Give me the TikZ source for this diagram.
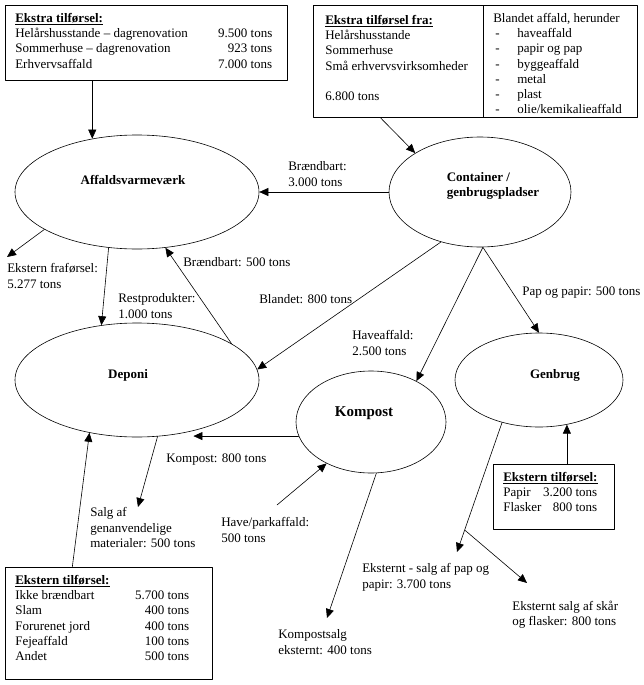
\documentclass[tikz,border=0pt]{standalone}
\usepackage{fontspec}
\setmainfont{Liberation Serif}
\usetikzlibrary{arrows.meta,calc,shapes.geometric}
\newcommand{\fs}{\fontsize{13}{15.2}\selectfont}
\newcommand{\hd}[1]{\underline{\textbf{#1}}}
\tikzset{
	proc/.style={draw, ellipse, inner sep=0pt},
	elab/.style={font=\fs\bfseries, inner sep=0pt, align=left},
	boks/.style={draw, rectangle, inner sep=0pt, anchor=north west},
	tab/.style={inner sep=0pt, anchor=north west, font=\fs},
	txt/.style={inner sep=0pt, anchor=north west, align=left, font=\fs, execute at begin node=\strut}
}

\begin{document}
\begin{tikzpicture}[x=1pt,y=-1pt,line cap=round,line join=round,line width=0.6pt,>={Triangle[length=9pt,width=8pt]}]
	\useasboundingbox (0,0) rectangle (643,685);
	
	% Boxes
	\node[boks, minimum width=282pt, minimum height=75pt] (b1) at (5,5) {};
	\node[tab] (b1t) at ([shift={(10pt,-6.5pt)}]b1.north west) {\begin{tabular*}{257pt}{@{}l@{\extracolsep{\fill}}r@{}}
			\multicolumn{2}{@{}l}{\hd{Ekstra tilførsel:}}\\
			Helårshusstande – dagrenovation & 9.500 tons\\
			Sommerhuse – dagrenovation & 923 tons\\
			Erhvervsaffald & 7.000 tons
		\end{tabular*}};
	\node[boks, minimum width=170pt, minimum height=112pt] (b2l) at (313,5) {};
	\node[boks, minimum width=154pt, minimum height=112pt] (b2r) at (483,5) {};
	\node[tab] (b2lt) at ([shift={(12pt,-8.5pt)}]b2l.north west) {\begin{tabular}{@{}l@{}}
			\hd{Ekstra tilførsel fra:}\\
			Helårshusstande\\
			Sommerhuse\\
			Små erhvervsvirksomheder\\
			\\
			6.800 tons
		\end{tabular}};
	\node[tab] (b2rt) at ([shift={(10pt,-6.5pt)}]b2r.north west) {\begin{tabular}{@{}p{24pt}@{}l@{}}
			\multicolumn{2}{@{}l@{}}{Blandet affald, herunder}\\
			\hspace{2pt}- & haveaffald\\
			\hspace{2pt}- & papir og pap\\
			\hspace{2pt}- & byggeaffald\\
			\hspace{2pt}- & metal\\
			\hspace{2pt}- & plast\\
			\hspace{2pt}- & olie/kemikalieaffald
		\end{tabular}};
	\node[boks, minimum width=207pt, minimum height=112pt] (b3) at (5,567) {};
	\node[tab] (b3t) at ([shift={(10pt,-6.5pt)}]b3.north west) {\begin{tabular*}{174pt}{@{}l@{\extracolsep{\fill}}r@{}}
			\multicolumn{2}{@{}l}{\hd{Ekstern tilførsel:}}\\
			Ikke brændbart & 5.700 tons\\
			Slam & 400 tons\\
			Forurenet jord & 400 tons\\
			Fejeaffald & 100 tons\\
			Andet & 500 tons
		\end{tabular*}};
	\node[boks, minimum width=121pt, minimum height=65pt] (eg) at (493,464) {};
	\node[tab] (egt) at ([shift={(10pt,-6.5pt)}]eg.north west) {\begin{tabular*}{94pt}{@{}l@{\extracolsep{\fill}}r@{}}
			\multicolumn{2}{@{}l}{\rlap{\hd{Ekstern tilførsel:}}}\\
			Papir & 3.200 tons\\
			Flasker & 800 tons
		\end{tabular*}};
	
	% Ellipses
	\node[proc, minimum width=244pt, minimum height=114pt, label={[elab,xshift=-4pt,yshift=12pt]center:Affaldsvarmeværk}] (A) at (137,192) {};
	\node[proc, minimum width=182pt, minimum height=110pt, label={[elab,xshift=13pt,yshift=6pt]center:Container /\\genbrugspladser}] (C) at (480,192) {};
	\node[proc, minimum width=244pt, minimum height=114pt, label={[elab,xshift=-9pt,yshift=5pt]center:Deponi}] (D) at (137,380) {};
	\node[proc, minimum width=150pt, minimum height=102pt, label={[elab,font=\fontsize{15}{18}\selectfont\bfseries,xshift=-7pt,yshift=9pt]center:Kompost}] (K) at (371,422) {};
	\node[proc, minimum width=168pt, minimum height=94pt, label={[elab,xshift=16pt,yshift=5pt]center:Genbrug}] (G) at (539,380) {};
	
	% Free ends
	\coordinate (fraEnd) at (7,257);
	\coordinate (salgEnd) at (138,507);
	\coordinate (parkStart) at (277,505);
	\coordinate (ksalgEnd) at (327,618);
	\coordinate (papEnd) at (457,552);
	\coordinate (branch) at ($(G.229)!0.83!(papEnd)$);
	\coordinate (skaarEnd) at (527,583);
	
	% Flows
	\draw[->] (A.130 |- b1.south) -- (A.130);
	\draw[->] ([xshift=-18pt]b2l.south) -- (C.149);
	\draw[->] (C.west) -- (A.east);
	\draw[->] (A.202) -- (fraEnd);
	\draw[->] (A.243) -- (D.123);
	\draw[->] (D.21) -- (A.297);
	\draw[->] (C.232) -- (D.5);
	\draw[->] (C.273) -- (K.42);
	\draw[->] (C.273) -- (G.north);
	\draw[->] (K.191) -- (K.191 -| D.318);
	\draw[->] (D.290) -- (salgEnd);
	\draw[->] ([xshift=-36.5pt]b3.north) -- (D.228);
	\draw[->] (parkStart) -- (K.223);
	\draw[->] (K.276) -- (ksalgEnd);
	\draw[->] (G.302 |- eg.north) -- (G.302);
	\draw[->] (G.229) -- (papEnd);
	\draw[->] (branch) -- (skaarEnd);
	
	% Labels
	\node[txt] (lBr3) at (288,161.5) {Brændbart:\\3.000 tons};
	\node[txt] (lFra) at (7,263.5) {Ekstern fraførsel:\\5.277 tons};
	\node[txt] (lRest) at (118,293.5) {Restprodukter:\\1.000 tons};
	\node[txt] (lBr5) at (183,255.5) {Brændbart: 500 tons};
	\node[txt] (lBland) at (259,292.5) {Blandet: 800 tons};
	\node[txt] (lPap) at (522,284.5) {Pap og papir: 500 tons};
	\node[txt] (lHave) at (352,330.5) {Haveaffald:\\2.500 tons};
	\node[txt] (lKomp) at (166,451.5) {Kompost: 800 tons};
	\node[txt] (lSalg) at (90,507.5) {Salg af\\genanvendelige\\materialer: 500 tons};
	\node[txt] (lPark) at (221,517.5) {Have/parkaffald:\\500 tons};
	\node[txt] (lKsalg) at (278,629.5) {Kompostsalg\\eksternt: 400 tons};
	\node[txt] (lPapS) at (362,563.5) {Eksternt - salg af pap og\\papir: 3.700 tons};
	\node[txt] (lSkaar) at (512,600.5) {Eksternt salg af skår\\og flasker: 800 tons};
	
\end{tikzpicture}
\end{document}
